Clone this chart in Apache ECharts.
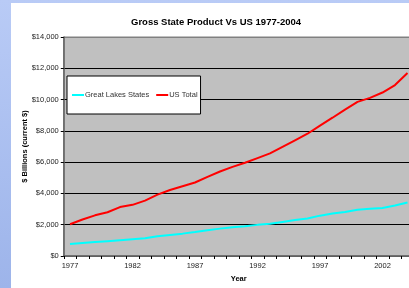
<!DOCTYPE html>
<html>
<head>
<meta charset="utf-8">
<style>
html,body{margin:0;padding:0;width:409px;height:288px;overflow:hidden;}
body{background:linear-gradient(to bottom,#b9cbf6,#9db4ea);position:relative;}
#c{position:absolute;left:11px;top:3px;width:410px;height:285px;background:#fff;}
</style>
<script src="https://cdn.jsdelivr.net/npm/echarts@6/dist/echarts.min.js"></script>
</head>
<body>
<div id="c"></div>
<script>
var years = [];
for (var y = 1977; y <= 2004; y++) years.push(String(y));
var greatLakes = [760, 830, 890, 950, 1010, 1070, 1130, 1260, 1350, 1430, 1530, 1650, 1750, 1840, 1900, 1990, 2060, 2180, 2300, 2400, 2580, 2710, 2810, 2950, 3020, 3070, 3230, 3420];
var usTotal = [2030, 2330, 2600, 2800, 3128, 3270, 3537, 3920, 4220, 4460, 4700, 5060, 5400, 5700, 5960, 6260, 6560, 6980, 7398, 7817, 8330, 8840, 9360, 9850, 10110, 10450, 10930, 11700];
var seriesNames = ['Great Lakes States', 'US Total'];

var font = 'Liberation Sans, Arial, sans-serif';
var chart = echarts.init(document.getElementById('c'), null, {renderer: 'canvas'});
chart.setOption({
  animation: false,
  textStyle: {fontFamily: font},
  title: {
    text: 'Gross State Product Vs US 1977-2004',
    left: 'center', top: 9,
    textStyle: {fontSize: 9.5, fontWeight: 'bold', color: '#000', fontFamily: font}
  },
  legend: {
    data: seriesNames,
    left: 56, top: 73,
    orient: 'horizontal',
    backgroundColor: '#fff',
    borderColor: '#000', borderWidth: 1,
    padding: [15, 3, 15, 5],
    itemWidth: 12, itemHeight: 2, itemGap: 7,
    icon: 'rect',
    textStyle: {fontSize: 7.5, color: '#333', padding: [0, 0, 0, -4], fontFamily: font}
  },
  grid: {left: 52.75, top: 34, right: 7.25, bottom: 32, outerBoundsMode: 'none', containLabel: false,
         show: true, backgroundColor: '#c0c0c0', borderColor: '#808080', borderWidth: 1},
  xAxis: {
    type: 'category',
    data: years,
    boundaryGap: true,
    name: 'Year', nameLocation: 'middle', nameGap: 19, nameMoveOverlap: false,
    nameTextStyle: {fontSize: 7.5, fontWeight: 'bold', color: '#000'},
    axisLine: {lineStyle: {color: '#606060', width: 1.5}},
    axisTick: {show: true, interval: 0, length: 3, lineStyle: {color: '#000'}},
    axisLabel: {interval: 4, fontSize: 7.5, color: '#222', margin: 6}
  },
  yAxis: {
    type: 'value', min: 0, max: 14000, interval: 2000,
    name: '$ Billions (current $)', nameLocation: 'middle', nameGap: 35, nameMoveOverlap: false,
    nameTextStyle: {fontSize: 7.5, fontWeight: 'bold', color: '#000'},
    axisLine: {show: true, lineStyle: {color: '#606060', width: 1.5}},
    axisTick: {show: true, length: 3, lineStyle: {color: '#000'}},
    axisLabel: {fontSize: 7.5, color: '#222', margin: 5,
      formatter: function (v) { return '$' + v.toLocaleString('en-US'); }},
    splitLine: {show: true, lineStyle: {color: ['#606060', '#000', '#000', '#000', '#000', '#000', '#000', '#808080'], width: 1}}
  },
  series: [
    {name: seriesNames[0], type: 'line', data: greatLakes, showSymbol: false, symbol: 'none',
     lineStyle: {color: '#00ffff', width: 2}, itemStyle: {color: '#00ffff'}},
    {name: seriesNames[1], type: 'line', data: usTotal, showSymbol: false, symbol: 'none',
     lineStyle: {color: '#ff0000', width: 2}, itemStyle: {color: '#ff0000'}}
  ]
});
</script>
</body>
</html>
